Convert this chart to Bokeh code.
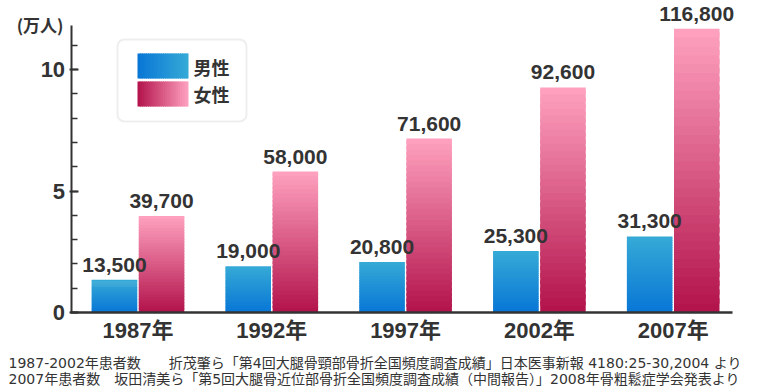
from bokeh.plotting import figure
from bokeh.models import (ColumnDataSource, Range1d, FixedTicker, LinearAxis,
                          LabelSet, Label, BoxAnnotation)
from bokeh.core.properties import value
from bokeh.embed import file_html
from bokeh.resources import INLINE

# ---------------- data ----------------
years = ["1987年", "1992年", "1997年", "2002年", "2007年"]
male = [13500, 19000, 20800, 25300, 31300]
female = [39700, 58000, 71600, 92600, 116800]
y_ticks = [0, 5, 10]
y_minor_ticks = [0, 1, 2, 3, 4, 5, 6, 7, 8, 9, 10, 11]
unit_label = "(万人)"
legend_labels = ["男性", "女性"]
notes = [
    "1987-2002年患者数　　折茂肇ら「第4回大腿骨頸部骨折全国頻度調査成績」日本医事新報 4180:25-30,2004 より",
    "2007年患者数　坂田清美ら「第5回大腿骨近位部骨折全国頻度調査成績（中間報告）」2008年骨粗鬆症学会発表より",
]
UNIT = 10000  # values shown in 万人

# ---------------- styling / geometry ----------------
W, H = 757, 392
X0_PX = 70.6        # left edge of first category slot (px)
CAT_PX = 133.8      # width of one category slot (px)
BASE_PX = 312       # baseline (px)
PPU = 24.3          # pixels per 1 万人
OFF = 0.176
BAR_W = 0.34
N_SLICES = 32

MALE_TOP, MALE_BOT = (54, 170, 214), (8, 118, 214)
FEM_TOP, FEM_BOT = (255, 162, 192), (178, 18, 74)
TXT = "#333333"
NUM_FONT = "'Liberation Sans', 'Noto Sans CJK JP'"
JP_FONT = "Noto Sans CJK JP"
NOTE_FONT = "'DejaVu Sans', 'Noto Sans CJK JP'"


def mix(c1, c2, t):
    r, g, b = (round(a + (b_ - a) * t) for a, b_ in zip(c1, c2))
    return f"#{r:02x}{g:02x}{b:02x}"


# pixel helpers for decoration placement
def xd(px):
    return (px - X0_PX) / CAT_PX


def yd(py):
    return (BASE_PX - py) / PPU


p = figure(width=W, height=H,
           x_range=Range1d(xd(0), xd(W)), y_range=Range1d(yd(H), yd(0)),
           output_backend="svg", toolbar_location=None,
           x_axis_location=None, y_axis_location=None,
           min_border=0, min_border_left=0, min_border_right=0,
           min_border_top=0, min_border_bottom=0)
p.outline_line_color = None
p.xgrid.visible = False
p.ygrid.visible = False
p.background_fill_color = "white"
p.border_fill_color = "white"

# ---------------- gradient bars ----------------
for series, off, c_top, c_bot in [(male, -OFF, MALE_TOP, MALE_BOT),
                                  (female, OFF, FEM_TOP, FEM_BOT)]:
    d = dict(x=[], bottom=[], top=[], color=[])
    for i, v in enumerate(series):
        h = v / UNIT
        for k in range(N_SLICES):
            d["x"].append(i + 0.5 + off)
            d["bottom"].append(h * k / N_SLICES)
            d["top"].append(min(h, h * (k + 1.6) / N_SLICES))
            d["color"].append(mix(c_bot, c_top, (k + 0.5) / N_SLICES))
    p.vbar(x="x", bottom="bottom", top="top", width=BAR_W, fill_color="color",
           line_color=None, source=ColumnDataSource(d))

# ---------------- value labels ----------------
lab = dict(x=[], y=[], text=[])
for series, off in [(male, -OFF), (female, OFF)]:
    for i, v in enumerate(series):
        lab["x"].append(i + 0.5 + off)
        lab["y"].append(v / UNIT)
        lab["text"].append(f"{v:,}")
p.add_layout(LabelSet(x="x", y="y", text="text", source=ColumnDataSource(lab),
                      text_align="center", text_baseline="alphabetic", y_offset=8,
                      text_font=value("Liberation Sans"), text_font_size="21px",
                      text_font_style="bold", text_color=TXT))

# ---------------- axes (fixed inside the full-canvas frame) ----------------
ya = LinearAxis(fixed_location=0, bounds=(0, yd(25)),
                ticker=FixedTicker(ticks=y_ticks, minor_ticks=y_minor_ticks))
ya.axis_line_color = TXT
ya.axis_line_width = 2
ya.major_tick_line_color = TXT
ya.major_tick_line_width = 2
ya.major_tick_in = 7
ya.major_tick_out = 2
ya.minor_tick_line_color = TXT
ya.minor_tick_line_width = 1.5
ya.minor_tick_in = 6
ya.minor_tick_out = 0
ya.major_label_standoff = 4
ya.major_label_text_font = NUM_FONT
ya.major_label_text_font_size = "22px"
ya.major_label_text_font_style = "bold"
ya.major_label_text_color = TXT
p.add_layout(ya, "left")

x_ticks = [i + 0.5 for i in range(len(years))]
xa = LinearAxis(fixed_location=0, bounds=(xd(70), xd(732)),
                ticker=FixedTicker(ticks=x_ticks, minor_ticks=[]),
                major_label_overrides={t: y for t, y in zip(x_ticks, years)})
xa.axis_line_color = TXT
xa.axis_line_width = 2.5
xa.major_tick_line_color = None
xa.minor_tick_line_color = None
xa.major_tick_out = 0
xa.major_tick_in = 0
xa.major_label_standoff = 5
xa.major_label_text_font = NUM_FONT
xa.major_label_text_font_size = "22px"
xa.major_label_text_font_style = "bold"
xa.major_label_text_color = TXT
p.add_layout(xa, "below")

# unit label
p.add_layout(Label(x=xd(63), y=yd(24), text=unit_label, text_align="right",
                   text_baseline="middle", text_font=JP_FONT, text_font_size="17px",
                   text_font_style="bold", text_color=TXT))

# ---------------- legend ----------------
p.add_layout(BoxAnnotation(left=xd(117), right=xd(246), top=yd(39), bottom=yd(121),
                           fill_color="white", fill_alpha=1, line_color="#c8c8c8",
                           line_width=2, border_radius=7, level="underlay"))
sw = dict(left=[], right=[], top=[], bottom=[], color=[])
rows = [(53, 78, MALE_BOT, MALE_TOP), (81, 106, FEM_BOT, FEM_TOP)]
NS = 24
for top_px, bot_px, c_left, c_right in rows:
    for k in range(NS):
        l_px = 137 + (188 - 137) * k / NS
        r_px = 137 + (188 - 137) * min(1, (k + 1.6) / NS)
        sw["left"].append(xd(l_px))
        sw["right"].append(xd(r_px))
        sw["top"].append(yd(top_px))
        sw["bottom"].append(yd(bot_px))
        sw["color"].append(mix(c_left, c_right, (k + 0.5) / NS))
p.quad(left="left", right="right", top="top", bottom="bottom", fill_color="color",
       line_color=None, source=ColumnDataSource(sw))
for txt, cy in zip(legend_labels, [66, 93]):
    p.add_layout(Label(x=xd(193), y=yd(cy), text=txt, text_align="left",
                       text_baseline="middle", text_font=JP_FONT, text_font_size="18px",
                       text_font_style="bold", text_color=TXT))

# ---------------- footnotes ----------------
for txt, cy in zip(notes, [362, 378]):
    p.add_layout(Label(x=xd(8), y=yd(cy), text=txt, text_align="left",
                       text_baseline="middle", text_font=NOTE_FONT, text_font_size="14px",
                       text_color=TXT))

open("out.html", "w").write(file_html(p, INLINE))
